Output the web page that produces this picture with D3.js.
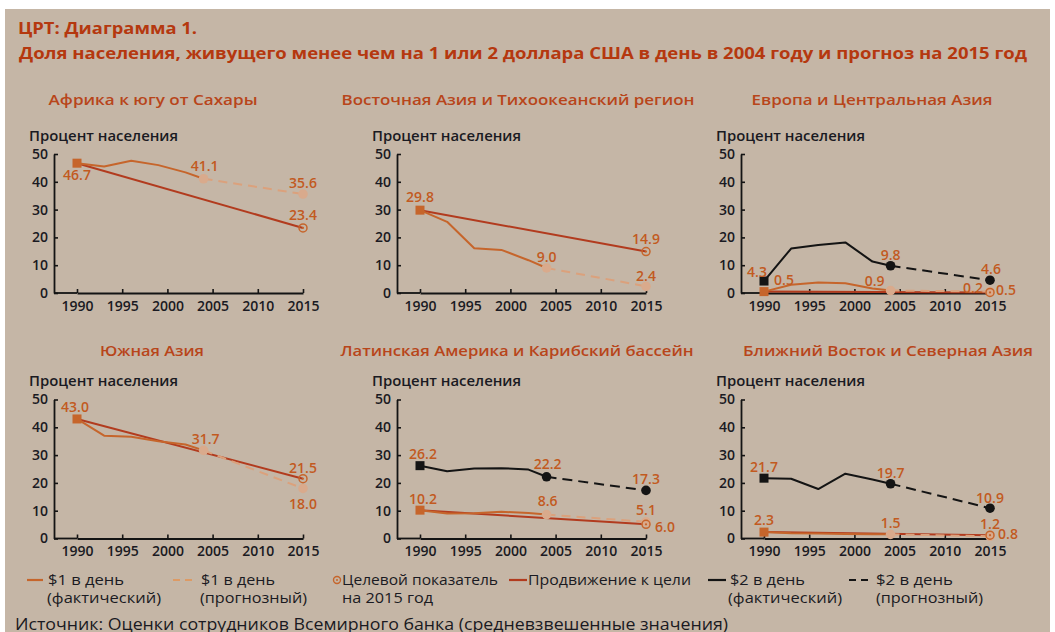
<!DOCTYPE html>
<html><head><meta charset="utf-8">
<script src="https://cdn.jsdelivr.net/npm/d3@7"></script>
<style>html,body{margin:0;padding:0;background:#fff;}svg{display:block;font-family:"Open Sans",sans-serif;}</style>
</head><body>
<svg id="c" width="1055" height="632"></svg>
<script>
// ---------------- DATA ----------------
const years = [1990, 1993, 1996, 1999, 2002, 2004];
const regionNames = [
  "Африка к югу от Сахары",
  "Восточная Азия и Тихоокеанский регион",
  "Европа и Центральная Азия",
  "Южная Азия",
  "Латинская Америка и Карибский бассейн",
  "Ближний Восток и Северная Азия"
];
const usd1Actual = [
  [46.7, 45.5, 47.6, 46.0, 43.4, 41.1],
  [29.8, 25.6, 16.1, 15.5, 11.8, 9.0],
  [0.5, 3.0, 3.8, 3.5, 1.6, 0.9],
  [43.0, 37.0, 36.6, 35.0, 33.8, 31.7],
  [10.2, 9.0, 9.1, 9.6, 9.2, 8.6],
  [2.3, 1.9, 1.8, 1.6, 1.5, 1.5]
];
const usd1Proj2015 = [35.6, 2.4, 0.5, 18.0, 6.0, 0.8];
const goal2015 = [23.4, 14.9, 0.2, 21.5, 5.1, 1.2];
const usd2Actual = [
  null, null,
  [4.3, 16.0, 17.3, 18.2, 11.3, 9.8],
  null,
  [26.2, 24.2, 25.2, 25.3, 24.8, 22.2],
  [21.7, 21.5, 17.8, 23.3, 21.2, 19.7]
];
const usd2Proj2015 = [null, null, 4.6, null, 17.3, 10.9];
const xTicks = [1990, 1995, 2000, 2005, 2010, 2015];
const yTicks = [0, 10, 20, 30, 40, 50];
const yAxisTitle = "Процент населения";
const titleLine1 = "ЦРТ: Диаграмма 1.";
const titleLine2 = "Доля населения, живущего менее чем на 1 или 2 доллара США в день в 2004 году и прогноз на 2015 год";
const legendLabels = [
  ["$1 в день", "(фактический)"],
  ["$1 в день", "(прогнозный)"],
  ["Целевой показатель", "на 2015 год"],
  ["Продвижение к цели"],
  ["$2 в день", "(фактический)"],
  ["$2 в день", "(прогнозный)"]
];
const sourceText = "Источник: Оценки сотрудников Всемирного банка (средневзвешенные значения)";

// ---------------- STYLE / LAYOUT ----------------
const C = {
  bg: "#c5b6a6", title: "#b5380f", panelTitle: "#b8451a",
  u1: "#c6652b", u1p: "#dba17c", u1pMarker: "#d9aa8c", prog: "#b23b1e",
  black: "#141414", label: "#c25a1f", text: "#1a1a22"
};
const colAxisX = [54, 397, 741];
const rows = [{top: 154, bot: 293, title: 100, ytitle: 141}, {top: 399.5, bot: 538.5, title: 351, ytitle: 386}];
const titleW = [209, 353, 241, 104, 353, 290];
const titleCX = [153, 518, 872, 152, 517, 888];
// label offsets [dx,dy] (centre relative to point)
const offs = [
  {u1a: [0, 12], u1b: [1, -13], u1p: [0, -11], goal: [0, -13]},
  {u1a: [0, -13], u1b: [0, -11], u1p: [0, -10], goal: [0, -12]},
  {u2a: [-7, -9], u1a: [20, -12], u2b: [0, -11], u1b: [-16, -9], u2p: [1, -11], goal: [-17, -4], u1p: [16, -2]},
  {u1a: [-2, -12], u1b: [2, -11], goal: [0, -11], u1p: [0, 16]},
  {u2a: [3, -12], u2b: [1, -13], u2p: [0, -11], u1a: [3, -11], u1b: [1, -13], goal: [0, -14], u1p: [19, 5]},
  {u2a: [0, -11], u2b: [0, -11], u2p: [0, -10], u1a: [0, -12], u1b: [0, -11], goal: [0, -11], u1p: [18, -2]}
];

const svg = d3.select("#c");
svg.append("rect").attr("x", 5).attr("y", 9).attr("width", 1045).attr("height", 623).attr("fill", C.bg);

function fit(sel, w) { return sel.attr("textLength", w).attr("lengthAdjust", "spacingAndGlyphs"); }

// Title
fit(svg.append("text").attr("x", 18).attr("y", 34).attr("fill", C.title)
  .style("font-size", "16.5px").style("font-weight", 700).text(titleLine1), 179);
fit(svg.append("text").attr("x", 19).attr("y", 59).attr("fill", C.title)
  .style("font-size", "16.5px").style("font-weight", 700).text(titleLine2), 1008);

const fmt = d3.format(".1f");

regionNames.forEach((name, i) => {
  const r = rows[Math.floor(i / 3)];
  const ax = colAxisX[i % 3];
  const x = d3.scaleLinear().domain([1990, 2015]).range([ax + 23, ax + 249]);
  const y = d3.scaleLinear().domain([0, 50]).range([r.bot, r.top]);
  const g = svg.append("g");

  fit(g.append("text").attr("x", titleCX[i]).attr("y", r.title).attr("dy", "0.35em")
    .attr("text-anchor", "middle").attr("fill", C.panelTitle)
    .style("font-size", "14.5px").style("font-weight", 600).text(name), titleW[i]);
  fit(g.append("text").attr("x", ax - 25).attr("y", r.ytitle).attr("fill", C.text)
    .style("font-size", "13.5px").style("font-weight", 600).text(yAxisTitle), 149);

  const yAx = g.append("g").attr("transform", `translate(${ax},0)`)
    .call(d3.axisLeft(y).tickValues(yTicks).tickSizeInner(-4).tickSizeOuter(0).tickPadding(6));
  const xAx = g.append("g").attr("transform", `translate(0,${r.bot})`)
    .call(d3.axisBottom(x).tickValues(xTicks).tickFormat(d3.format("d")).tickSizeInner(-4).tickSizeOuter(0).tickPadding(8));
  g.append("line").attr("x1", ax).attr("x2", x(1990)).attr("y1", r.bot).attr("y2", r.bot).attr("stroke", C.black).attr("stroke-width", 1.8);
  [yAx, xAx].forEach(a => {
    a.select(".domain").attr("stroke", C.black).attr("stroke-width", 1.8);
    a.selectAll(".tick line").attr("stroke", C.black).attr("stroke-width", 1.6);
    a.selectAll(".tick text").attr("fill", C.text).style("font-family", "'Open Sans',sans-serif")
      .style("font-size", "14px").style("font-weight", 600);
  });

  const line = d3.line().x(d => x(d[0])).y(d => y(d[1]));
  const u1 = years.map((yr, k) => [yr, usd1Actual[i][k]]);
  const u1start = usd1Actual[i][0], u1end = usd1Actual[i][years.length - 1];

  // progress to goal
  g.append("path").attr("d", line([[1990, u1start], [2015, goal2015[i]]]))
    .attr("fill", "none").attr("stroke", C.prog).attr("stroke-width", 2);
  // $1 actual
  g.append("path").attr("d", line(u1)).attr("fill", "none").attr("stroke", C.u1).attr("stroke-width", 2).attr("stroke-linejoin", "round");
  // $1 projected
  g.append("path").attr("d", line([[2004, u1end], [2015, usd1Proj2015[i]]]))
    .attr("fill", "none").attr("stroke", C.u1p).attr("stroke-width", 2).attr("stroke-dasharray", "9,6");

  if (usd2Actual[i]) {
    const u2 = years.map((yr, k) => [yr, usd2Actual[i][k]]);
    g.append("path").attr("d", line(u2)).attr("fill", "none").attr("stroke", C.black).attr("stroke-width", 2).attr("stroke-linejoin", "round");
    g.append("path").attr("d", line([[2004, usd2Actual[i][5]], [2015, usd2Proj2015[i]]]))
      .attr("fill", "none").attr("stroke", C.black).attr("stroke-width", 2).attr("stroke-dasharray", "10,6");
    g.append("rect").attr("x", x(1990) - 4.5).attr("y", y(usd2Actual[i][0]) - 4.5).attr("width", 9).attr("height", 9).attr("fill", C.black);
    [[2004, usd2Actual[i][5]], [2015, usd2Proj2015[i]]].forEach(p =>
      g.append("circle").attr("cx", x(p[0])).attr("cy", y(p[1])).attr("r", 4.8).attr("fill", C.black));
  }
  // $1 markers
  g.append("rect").attr("x", x(1990) - 4.5).attr("y", y(u1start) - 4.5).attr("width", 9).attr("height", 9).attr("fill", C.u1);
  [[2004, u1end], [2015, usd1Proj2015[i]]].forEach(p =>
    g.append("circle").attr("cx", x(p[0])).attr("cy", y(p[1])).attr("r", 4.8).attr("fill", C.u1pMarker));
  // goal marker
  g.append("circle").attr("cx", x(2015)).attr("cy", y(goal2015[i])).attr("r", 4).attr("fill", "none").attr("stroke", C.u1).attr("stroke-width", 1.5);
  g.append("circle").attr("cx", x(2015)).attr("cy", y(goal2015[i])).attr("r", 1.1).attr("fill", C.u1);

  // labels
  const o = offs[i];
  const lab = (key, yr, v) => {
    if (!o[key]) return;
    g.append("text").attr("x", x(yr) + o[key][0]).attr("y", y(v) + o[key][1]).attr("dy", "0.35em")
      .attr("text-anchor", "middle").attr("fill", C.label)
      .style("font-size", "14px").style("font-weight", 600).text(fmt(v));
  };
  lab("u1a", 1990, u1start); lab("u1b", 2004, u1end); lab("u1p", 2015, usd1Proj2015[i]); lab("goal", 2015, goal2015[i]);
  if (usd2Actual[i]) { lab("u2a", 1990, usd2Actual[i][0]); lab("u2b", 2004, usd2Actual[i][5]); lab("u2p", 2015, usd2Proj2015[i]); }
});

// Legend
const lg = svg.append("g");
const l1 = 585, l2 = 603, sy = 580;
const symX = [27, 173, 337, 509, 708, 849];
const txtX = [[48, 47], [201, 200], [342, 342], [528], [730, 728], [876, 876]];
const txtW = [[76, 114], [74, 107], [156, 91], [163], [75, 114], [77, 107]];
lg.append("line").attr("x1", symX[0]).attr("x2", symX[0] + 16).attr("y1", sy).attr("y2", sy).attr("stroke", C.u1).attr("stroke-width", 2.2);
lg.append("line").attr("x1", symX[1]).attr("x2", symX[1] + 22).attr("y1", sy).attr("y2", sy).attr("stroke", "#dd9a64").attr("stroke-width", 2.2).attr("stroke-dasharray", "7,5");
lg.append("circle").attr("cx", symX[2]).attr("cy", sy).attr("r", 3.5).attr("fill", "none").attr("stroke", C.u1).attr("stroke-width", 1.4);
lg.append("circle").attr("cx", symX[2]).attr("cy", sy).attr("r", 1).attr("fill", C.u1);
lg.append("line").attr("x1", symX[3]).attr("x2", symX[3] + 18).attr("y1", sy).attr("y2", sy).attr("stroke", C.prog).attr("stroke-width", 2.2);
lg.append("line").attr("x1", symX[4]).attr("x2", symX[4] + 18).attr("y1", sy).attr("y2", sy).attr("stroke", C.black).attr("stroke-width", 2.2);
lg.append("line").attr("x1", symX[5]).attr("x2", symX[5] + 20).attr("y1", sy).attr("y2", sy).attr("stroke", C.black).attr("stroke-width", 2.2).attr("stroke-dasharray", "7,5");
legendLabels.forEach((lines, k) => {
  lines.forEach((t, j) => {
    fit(lg.append("text").attr("x", txtX[k][j]).attr("y", j ? l2 : l1).attr("fill", C.text)
      .style("font-size", "14.5px").text(t), txtW[k][j]);
  });
});
fit(svg.append("text").attr("x", 15).attr("y", 630).attr("fill", C.text).style("font-size", "16px").text(sourceText), 713);
</script>
</body></html>
